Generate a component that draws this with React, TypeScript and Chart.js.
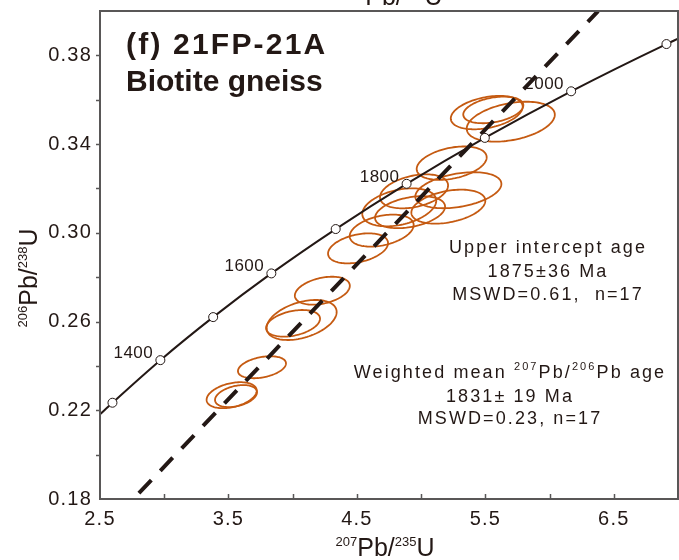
import React, { useEffect, useRef } from 'react';
import { Chart, registerables } from 'chart.js';

Chart.register(...registerables);

const INK = '#231815';
const FRAME = '#595757';
const ORANGE = '#c55a11';
const FONT = '"Liberation Sans", Arial, sans-serif';

// Concordia curve points (207Pb/235U, 206Pb/238U); null age = curve end at the frame
const concordiaAges = [null, 1300, 1400, 1500, 1600, 1700, 1800, 1900, 2000, 2100, null];
const concordiaX = [2.5, 2.597, 2.970, 3.381, 3.834, 4.335, 4.887, 5.496, 6.168, 6.910, 7.0];
const concordiaY = [0.2182, 0.2234, 0.2426, 0.2620, 0.2817, 0.3017, 0.3221, 0.3428, 0.3638, 0.3851, 0.3875];
const labeledAges = [1400, 1600, 1800, 2000];

// Discordia (dashed) line end points
const discordiaX = [2.76, 6.378];
const discordiaY = [0.18, 0.40];

// Error ellipses: centre, half-extent in x and y, correlation
const ellipseX = [5.511, 5.562, 5.698, 5.238, 4.945, 5.290, 4.830, 4.914, 5.212, 4.693, 4.509, 4.231, 4.070, 4.003, 3.761, 3.525, 3.559];
const ellipseY = [0.3542, 0.3554, 0.3501, 0.3314, 0.3187, 0.3192, 0.3115, 0.3093, 0.3118, 0.3010, 0.2930, 0.2739, 0.2607, 0.2592, 0.2394, 0.2268, 0.2264];
const ellipseSx = [0.280, 0.234, 0.343, 0.2725, 0.265, 0.335, 0.288, 0.2725, 0.288, 0.249, 0.2336, 0.214, 0.2725, 0.210, 0.187, 0.195, 0.1635];
const ellipseSy = [0.00753, 0.0060, 0.0090, 0.00753, 0.00766, 0.00812, 0.00857, 0.00721, 0.00766, 0.00721, 0.00676, 0.00631, 0.00902, 0.0060, 0.00496, 0.00586, 0.00496];
const ellipseRho = [0.35, 0.35, 0.35, 0.35, 0.35, 0.35, 0.35, 0.35, 0.35, 0.35, 0.35, 0.35, 0.4, 0.35, 0.35, 0.35, 0.35];

const xLabelTicks = [2.5, 3.5, 4.5, 5.5, 6.5];
const yLabelTicks = [0.18, 0.22, 0.26, 0.30, 0.34, 0.38];

const titleLines = ['(f) 21FP-21A', 'Biotite gneiss'];
const upperText = ['Upper intercept age', '1875\u00b136 Ma', 'MSWD=0.61,  n=17'];
const lowerText = ['1831\u00b1 19 Ma', 'MSWD=0.23, n=17'];

type Part = { t: string; sup?: boolean };

function drawRich(
  ctx: CanvasRenderingContext2D,
  parts: Part[],
  x: number,
  y: number,
  align: 'left' | 'center' | 'right',
  size: number,
  supSize: number,
  spacing: number,
  weight = 'normal'
) {
  const setFont = (sup?: boolean) => {
    ctx.font = `${weight} ${sup ? supSize : size}px ${FONT}`;
    (ctx as any).letterSpacing = `${spacing}px`;
  };
  let total = 0;
  const widths = parts.map((p) => {
    setFont(p.sup);
    const w = ctx.measureText(p.t).width;
    total += w;
    return w;
  });
  let cx = align === 'center' ? x - total / 2 : align === 'right' ? x - total : x;
  ctx.textAlign = 'left';
  ctx.textBaseline = 'alphabetic';
  parts.forEach((p, i) => {
    setFont(p.sup);
    ctx.fillText(p.t, cx, p.sup ? y - size * 0.42 : y);
    cx += widths[i];
  });
}

const near = (a: number, list: number[]) => list.some((v) => Math.abs(v - a) < 1e-6);

const overlay = {
  id: 'overlay',
  beforeDraw(chart: any) {
    (chart.ctx as any).letterSpacing = '1.2px';
  },
  beforeDatasetsDraw(chart: any) {
    const { ctx, chartArea: a } = chart;
    const xs = chart.scales.x;
    const ys = chart.scales.y;
    ctx.save();
    ctx.beginPath();
    ctx.rect(a.left, a.top, a.right - a.left, a.bottom - a.top);
    ctx.clip();
    ctx.strokeStyle = ORANGE;
    ctx.lineWidth = 1.8;
    for (let i = 0; i < ellipseX.length; i++) {
      const r = ellipseRho[i];
      const q = Math.sqrt(1 - r * r);
      ctx.beginPath();
      const n = 120;
      for (let k = 0; k <= n; k++) {
        const t = (k / n) * Math.PI * 2;
        const vx = ellipseX[i] + ellipseSx[i] * Math.cos(t);
        const vy = ellipseY[i] + ellipseSy[i] * (r * Math.cos(t) + q * Math.sin(t));
        const px = xs.getPixelForValue(vx);
        const py = ys.getPixelForValue(vy);
        if (k === 0) ctx.moveTo(px, py);
        else ctx.lineTo(px, py);
      }
      ctx.closePath();
      ctx.stroke();
    }
    ctx.restore();
  },
  afterDraw(chart: any) {
    const { ctx, chartArea: a } = chart;
    const xs = chart.scales.x;
    const ys = chart.scales.y;
    ctx.save();
    // frame
    ctx.strokeStyle = FRAME;
    ctx.lineWidth = 2;
    ctx.strokeRect(a.left, a.top, a.right - a.left, a.bottom - a.top);
    ctx.lineWidth = 1.5;
    ctx.beginPath();
    xs.ticks.forEach((t: any) => {
      if (t.value <= xs.min + 1e-9 || t.value >= xs.max - 1e-9) return;
      const px = Math.round(xs.getPixelForValue(t.value)) + 0.5;
      ctx.moveTo(px, a.bottom);
      ctx.lineTo(px, a.bottom - 5);
    });
    ys.ticks.forEach((t: any) => {
      if (t.value <= ys.min + 1e-9 || t.value >= ys.max - 1e-9) return;
      const py = Math.round(ys.getPixelForValue(t.value)) + 0.5;
      ctx.moveTo(a.left, py);
      ctx.lineTo(a.left - 4, py);
    });
    ctx.stroke();

    ctx.fillStyle = INK;
    // age labels on concordia
    labeledAges.forEach((age) => {
      const i = concordiaAges.indexOf(age);
      const px = xs.getPixelForValue(concordiaX[i]);
      const py = ys.getPixelForValue(concordiaY[i]);
      drawRich(ctx, [{ t: String(age) }], px - 27, py - 2, 'center', 17, 17, 0.5);
    });

    // sample title
    drawRich(ctx, [{ t: titleLines[0] }], 126, 54, 'left', 30, 30, 2.2, 'bold');
    drawRich(ctx, [{ t: titleLines[1] }], 126, 91, 'left', 30, 30, 0, 'bold');

    // upper intercept text
    const ux = 548;
    drawRich(ctx, [{ t: upperText[0] }], ux, 253, 'center', 18, 18, 2.1);
    drawRich(ctx, [{ t: upperText[1] }], ux, 277, 'center', 18, 18, 2.1);
    drawRich(ctx, [{ t: upperText[2] }], ux, 300, 'center', 18, 18, 2.1);

    // weighted mean text
    const lx = 510;
    drawRich(
      ctx,
      [{ t: 'Weighted mean ' }, { t: '207', sup: true }, { t: 'Pb/' }, { t: '206', sup: true }, { t: 'Pb age' }],
      lx, 378, 'center', 18, 11, 2.1
    );
    drawRich(ctx, [{ t: lowerText[0] }], lx, 402, 'center', 18, 18, 2.1);
    drawRich(ctx, [{ t: lowerText[1] }], lx, 424, 'center', 18, 18, 2.1);

    // axis titles
    const xTitle: Part[] = [{ t: '207', sup: true }, { t: 'Pb/' }, { t: '235', sup: true }, { t: 'U' }];
    const cxm = 385;
    drawRich(ctx, xTitle, cxm, 556, 'center', 25, 13, 0);
    // cut-off title of the panel above
    drawRich(ctx, xTitle, cxm + 8, 5, 'center', 25, 13, 0);

    ctx.save();
    ctx.translate(37, 278);
    ctx.rotate(-Math.PI / 2);
    drawRich(ctx, [{ t: '206', sup: true }, { t: 'Pb/' }, { t: '238', sup: true }, { t: 'U' }], 0, 0, 'center', 25, 13, 0);
    ctx.restore();

    ctx.restore();
  },
};

export default function App() {
  const ref = useRef<HTMLCanvasElement | null>(null);
  useEffect(() => {
    if (!ref.current) return;
    const chart = new Chart(ref.current, {
      type: 'scatter',
      data: {
        datasets: [
          {
            type: 'line',
            label: 'Concordia',
            data: concordiaX.map((x, i) => ({ x, y: concordiaY[i] })),
            borderColor: INK,
            borderWidth: 2,
            tension: 0.4,
            cubicInterpolationMode: 'monotone',
            pointRadius: concordiaAges.map((a) => (a === null ? 0 : 4.5)),
            pointBackgroundColor: '#ffffff',
            pointBorderColor: INK,
            pointBorderWidth: 1,
            order: 1,
          } as any,
          {
            type: 'line',
            label: 'Discordia',
            data: discordiaX.map((x, i) => ({ x, y: discordiaY[i] })),
            borderColor: INK,
            borderWidth: 4,
            borderDash: [18, 13],
            borderDashOffset: 23,
            borderCapStyle: 'butt',
            pointRadius: 0,
            order: 2,
          } as any,
          {
            label: 'Ellipse centres',
            data: ellipseX.map((x, i) => ({ x, y: ellipseY[i] })),
            pointRadius: 0,
            showLine: false,
            order: 3,
          } as any,
        ],
      },
      options: {
        responsive: false,
        animation: false,
        devicePixelRatio: 1,
        layout: { padding: { top: 11, right: 1, left: 0, bottom: 0 } },
        plugins: { legend: { display: false }, tooltip: { enabled: false }, title: { display: false } },
        scales: {
          x: {
            type: 'linear',
            min: 2.5,
            max: 7.0,
            border: { display: false },
            grid: { display: false, drawTicks: true, tickLength: 9 },
            ticks: {
              stepSize: 0.5,
              autoSkip: false,
              maxRotation: 0,
              padding: 0,
              color: INK,
              font: { family: FONT, size: 20, lineHeight: 1.1 },
              callback: (v: any) => (near(Number(v), xLabelTicks) ? Number(v).toFixed(1) : ''),
            },
            afterFit: (s: any) => {
              s.height = 61;
            },
          },
          y: {
            type: 'linear',
            min: 0.18,
            max: 0.4,
            border: { display: false },
            grid: { display: false, drawTicks: true, tickLength: 8 },
            ticks: {
              stepSize: 0.02,
              autoSkip: false,
              padding: 0,
              color: INK,
              font: { family: FONT, size: 20, lineHeight: 1.0 },
              callback: (v: any) => (near(Number(v), yLabelTicks) ? Number(v).toFixed(2) : ''),
            },
            afterFit: (s: any) => {
              s.width = 100;
            },
          },
        },
      } as any,
      plugins: [overlay],
    });
    return () => chart.destroy();
  }, []);
  return (
    <div style={{ position: 'absolute', left: 0, top: 0, width: 679, height: 560, background: '#fff' }}>
      <canvas ref={ref} width={679} height={560} style={{ width: 679, height: 560, display: 'block' }} />
    </div>
  );
}
